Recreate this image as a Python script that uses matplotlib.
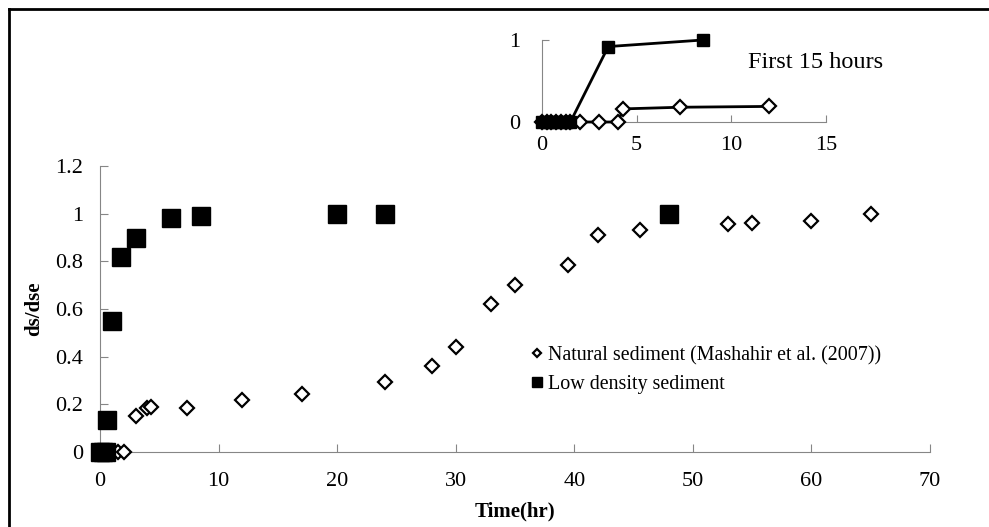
import matplotlib
matplotlib.use("Agg")
import matplotlib.pyplot as plt

# main chart data
nat_t = [0, 0.5, 1, 1.5, 2, 3, 4, 4.3, 7.3, 12, 17, 24, 28, 30, 33, 35, 39.5, 42, 45.5, 53, 55, 60, 65]
nat_v = [0, 0, 0, 0, 0, 0.15, 0.185, 0.19, 0.185, 0.22, 0.245, 0.293, 0.36, 0.44, 0.62, 0.70, 0.785, 0.912, 0.93, 0.958, 0.96, 0.97, 1.0]
low_t = [0, 0.25, 0.5, 0.6, 1, 1.75, 3, 6, 8.5, 20, 24, 48]
low_v = [0, 0, 0, 0.135, 0.55, 0.82, 0.9, 0.98, 0.99, 1.0, 1.0, 1.0]

# inset (first 15 hours)
ins_nat_t = [0, 0.25, 0.5, 0.75, 1, 1.25, 1.5, 2, 3, 4, 4.3, 7.3, 12]
ins_nat_v = [0, 0, 0, 0, 0, 0, 0, 0, 0, 0, 0.16, 0.18, 0.19]
ins_low_t = [0, 0.25, 0.5, 0.75, 1, 1.25, 1.5, 3.5, 8.5]
ins_low_v = [0, 0, 0, 0, 0, 0, 0, 0.92, 1.0]

plt.rcParams['font.family'] = ['Liberation Serif', 'DejaVu Serif']
grey = '#868686'

fig = plt.figure(figsize=(9.89, 5.27), dpi=100)

# outer frame (top and left edges visible)
fig.add_artist(plt.Line2D([9/989, 9/989], [0, 1 - 9/527], color='black', lw=2, transform=fig.transFigure))
fig.add_artist(plt.Line2D([9/989, 1], [1 - 9/527, 1 - 9/527], color='black', lw=2, transform=fig.transFigure))

ax = fig.add_axes([100/989, 1 - 452/527, 830/989, 286/527])
ax.plot(nat_t, nat_v, linestyle='none', marker='D', markersize=7.5, markerfacecolor='white',
        markeredgecolor='black', markeredgewidth=1.6, clip_on=False, zorder=3,
        label='Natural sediment (Mashahir et al. (2007))')
ax.plot(low_t, low_v, linestyle='none', marker='s', markersize=13, color='black',
        clip_on=False, zorder=4, label='Low density sediment')
ax.set_xlim(0, 70)
ax.set_ylim(0, 1.2)
ax.set_xticks(range(0, 71, 10))
ax.set_yticks([0, 0.2, 0.4, 0.6, 0.8, 1, 1.2])
ax.set_yticklabels(['0', '0.2', '0.4', '0.6', '0.8', '1', '1.2'])
for s in ['top', 'right']:
    ax.spines[s].set_visible(False)
for s in ['left', 'bottom']:
    ax.spines[s].set_color(grey)
ax.tick_params(direction='in', length=6, color=grey, labelsize=16)
ax.tick_params(axis='x', pad=14.5)
ax.tick_params(axis='y', pad=12)
ax.set_xlabel('Time(hr)', fontsize=15, fontweight='bold', labelpad=7.5)
ax.set_ylabel('ds/dse', fontsize=15, fontweight='bold', labelpad=8)

leg = ax.legend(loc='upper left', bbox_to_anchor=(531/989, 1 - 346/527), bbox_transform=fig.transFigure,
                frameon=False, fontsize=14.4, markerscale=0.6, handlelength=0.6, handletextpad=0.25,
                labelspacing=0.5, borderpad=0, borderaxespad=0)

# inset
ins = fig.add_axes([542/989, 1 - 122/527, 284/989, 82/527])
ins.plot(ins_nat_t, ins_nat_v, color='black', lw=2, marker='D', markersize=7.5, markerfacecolor='white',
         markeredgecolor='black', markeredgewidth=1.6, clip_on=False, zorder=3)
ins.plot(ins_low_t, ins_low_v, color='black', lw=2, marker='s', markersize=8.5,
         clip_on=False, zorder=4)
ins.set_xlim(0, 15)
ins.set_ylim(0, 1)
ins.set_xticks([0, 5, 10, 15])
ins.set_yticks([0, 1])
for s in ['top', 'right']:
    ins.spines[s].set_visible(False)
for s in ['left', 'bottom']:
    ins.spines[s].set_color(grey)
ins.tick_params(direction='in', length=5, color=grey, labelsize=16)
ins.tick_params(axis='x', pad=10)
ins.tick_params(axis='y', pad=16)
fig.text(748/989, 1 - 62/527, 'First 15 hours', fontsize=17.5, va='center', ha='left')

fig.savefig('out.png', dpi=100)
